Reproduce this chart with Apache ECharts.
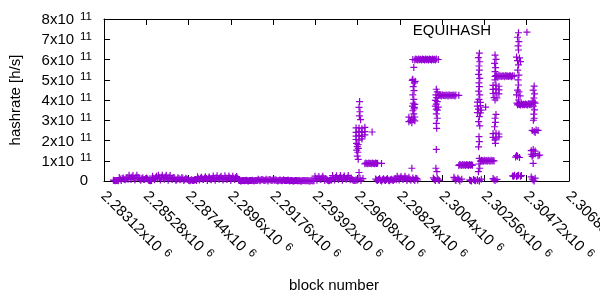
<!DOCTYPE html>
<html><head><meta charset="utf-8">
<script src="https://cdn.jsdelivr.net/npm/echarts@6/dist/echarts.min.js"></script>
<style>html,body{margin:0;padding:0;background:#fff}#c{width:600px;height:300px}</style>
</head><body><div id="c"></div>
<script>
// ---- data (hashrate in units of 1e9 h/s) ----
const xTickMin = 2283120, xTickMax = 2306880, xTickStep = 2160;
const yTickMax = 8e11, yTickStep = 1e11;

// dense low band, one sample every 100 blocks (two interleaved rows)
const lowBandStart = 2283600;
const lowBandValues = [4,1,3, 17,3,15,6,17, 29,8,27,5,28, 17,4,16,7,15, 4,1, 24,6,23,
  29,5,28,9,29,4,27,8, 17,3,16,6,17,2,14, 7,1,6,2,7, 21,5,19,8,21,3,20,6,
  25,4,26,9,24,5,26,7,25,3,24,8,22, 4,0,3,1,4,0,2,4,1,3, 9,1,8,2,9,0,7,3,9,
  6,0,5,1,6,2,4,0, 2,0,3,1,2,0,2,1,3,0,2,1, 24,4,22,7,24,3, 8,1,6,
  27,5,26,8,27,4,25,9,27,6, 8,2,6];
const lowBandMidStart = 2283650;
const lowBandMidValues = [2,3,1, 10,12,8,11,9, 15,20,13,18,16, 9,11,8,12,10, 2,3, 12,15,11,
  16,19,14,21,15,18,13,17, 10,8,12,9,11,7,10, 3,4,2,5,3, 11,14,10,13,12,15,9,12,
  13,16,12,17,14,11,15,13,16,12,14,17,13, 2,1,3,2,1,2,3,1,2,2, 4,6,5,3,5,6,4,5,3,
  3,2,4,3,2,3,4,2, 1,1,2,1,0,1,2,1,1,0,1,1, 12,14,11,15,13,12, 4,3,5,
  14,17,13,16,15,18,12,16,14,15, 4,3,4];
const lowBand2Start = 2297000;
const lowBand2Values = [10,2,12,0,11,3,12,1,9,2,12, 24,5,22,8,24,3];
const lowBand2MidStart = 2297050;
const lowBand2MidValues = [5,7,4,6,5,8,4,6,5,7,6, 13,15,12,14,13,11];

// plateaus, one sample every 50 blocks
const plateau1Start = 2296450, plateau1 = [85,89,87,85,89,86,88,85,89,87,85,89,86,88];
const plateau2Start = 2299000, plateau2 = [598,602,600,597,603,599,601,598,602,600,597,603,599,601,598,602,600,597,603,599,601,598,602];
const plateau3Start = 2300200, plateau3 = [421,425,423,420,426,422,424,421,425,423,420,426,422,424,421,425,423,420,425];
const plateau4Start = 2301250, plateau4 = [77,81,79,76,82,78,80,77,81,79,76,82,78,80,78];
const plateau5Start = 2302350, plateau5 = [98,102,100,97,103,99,101,98,102,100,97,103,99,101,99];
const plateau6Start = 2303100, plateau6 = [516,520,518,515,521,517,519,516,520,518,515,521,517,519,516,520,518,515,520];
const plateau7Start = 2304250, plateau7 = [376,380,378,375,381,377,379,376,380,378,375,381,377,379,377];

// individual blocks [block, hashrate]
const spike1 = [[2296180,392],[2296150,364],[2296200,342],[2296170,322],[2296230,303],
 [2296000,262],[2296150,262],[2296300,258],[2296450,265],[2296000,240],[2296150,245],[2296300,240],[2296450,244],
 [2296000,222],[2296150,225],[2296300,220],[2296450,228],[2296000,205],[2296150,202],[2296300,208],[2296820,242],
 [2296020,186],[2296100,180],[2296060,170],[2296120,161],[2296030,152],[2296090,142],[2296060,123],[2296110,107],
 [2296150,42],[2296100,8],[2296250,3],[2296350,12],[2296200,14],[2297300,87]];
const spike2 = [[2298950,561],[2298900,502],[2298980,485],[2298920,466],[2298960,446],[2298900,425],[2298950,403],
 [2298920,384],[2298980,364],[2298900,347],[2298950,331],[2298700,315],[2298850,312],[2299000,316],[2298700,293],
 [2298850,288],[2299000,297],[2298780,300],[2298930,305],[2298870,497],[2299020,492],[2298880,370],[2299000,378],
 [2298960,356],[2298850,63],[2298700,18],[2298800,4],[2298900,15],[2299000,2],[2299100,12],[2299150,5],
 [2298750,9],[2298950,8],[2299050,14],[2298900,600],[2300200,600]];
const spike3 = [[2300100,453],[2300150,440],[2300080,425],[2300120,412],[2300050,398],[2300150,392],[2300100,380],
 [2300050,370],[2300200,365],[2300100,355],[2300150,350],[2300100,331],[2300150,310],[2300100,285],[2300120,260],
 [2300100,156],[2300080,63],[2300130,46],[2299950,15],[2300050,3],[2300150,12],[2300250,2],[2300000,8],[2300200,6],
 [2301250,423],[2301000,18],[2301100,3],[2301200,14],[2301300,0],[2301400,9],[2301050,10],[2301250,7]];
const spike4 = [[2301800,5],[2301900,0],[2302000,8],[2302100,1],[2302200,4],[2302300,0],[2301850,3],[2302050,4],
 [2302300,631],[2302250,609],[2302320,589],[2302280,568],[2302300,548],[2302260,527],[2302320,507],[2302280,485],
 [2302300,466],[2302260,444],[2302320,425],[2302280,403],[2302200,390],[2302350,388],[2302200,370],[2302350,372],
 [2302250,355],[2302400,350],[2302200,338],[2302350,336],[2302620,365],[2302300,318],[2302260,293],[2302320,272],
 [2302280,219],[2302300,194],[2302260,169],[2302300,112],[2302280,84],[2302320,63],[2302250,46],
 [2302200,6],[2302300,1],[2302400,9]];
const spike5 = [[2303100,622],[2303150,601],[2303080,581],[2303130,560],[2303100,540],[2303150,519],[2303100,499],
 [2303000,472],[2303150,474],[2303300,468],[2303000,452],[2303150,455],[2303300,450],[2303000,432],[2303150,435],
 [2303300,430],[2303050,412],[2303200,410],[2303100,400],[2303150,329],[2303100,310],[2303120,290],[2303080,268],
 [2303000,234],[2303150,236],[2303300,232],[2303000,215],[2303150,212],[2303300,218],[2303100,203],[2303120,186],
 [2303000,12],[2303100,2],[2303200,8],[2303050,6],[2304080,518]];
const spike6 = [[2304000,25],[2304100,29],[2304200,22],[2304300,28],[2304400,23],[2304450,27],[2304050,23],[2304250,26],
 [2304150,118],[2304250,122],[2304350,116],[2304200,126],
 [2304300,732],[2304250,710],[2304320,688],[2304280,667],[2304300,647],[2304200,612],[2304350,608],[2304250,594],
 [2304400,590],[2304300,573],[2304260,548],[2304320,523],[2304280,499],[2304300,474],[2304250,449],[2304320,440],
 [2304200,425],[2304380,420],[2304300,400],[2304220,385],[2304730,735]];
const spike7 = [[2305100,469],[2305050,449],[2305120,430],[2305080,410],[2305100,390],[2305050,370],[2305120,351],
 [2305080,330],[2305100,310],[2305060,300],[2305000,395],[2305150,385],
 [2305000,250],[2305100,245],[2305200,252],[2305150,240],[2305300,250],
 [2304950,150],[2305050,155],[2305150,148],[2304950,132],[2305050,128],[2305150,135],[2305300,125],[2305000,122],
 [2305380,128],[2305050,87],[2304950,20],[2305050,5],[2305150,14],[2305100,0],[2305000,10]];

// ---- build ----
const UNIT = 1e9;
function row(start, step, vals) { return vals.map((v, i) => [start + i * step, v * UNIT]); }
function pts(list) { return list.map(p => [p[0], p[1] * UNIT]); }
const data = [].concat(
  row(lowBandStart, 100, lowBandValues), row(lowBandMidStart, 100, lowBandMidValues),
  row(lowBand2Start, 100, lowBand2Values), row(lowBand2MidStart, 100, lowBand2MidValues),
  row(plateau1Start, 50, plateau1), row(plateau2Start, 50, plateau2), row(plateau3Start, 50, plateau3),
  row(plateau4Start, 50, plateau4), row(plateau5Start, 50, plateau5), row(plateau6Start, 50, plateau6),
  row(plateau7Start, 50, plateau7),
  pts(spike1), pts(spike2), pts(spike3), pts(spike4), pts(spike5), pts(spike6), pts(spike7));

const FONT = '"Liberation Sans", Arial, sans-serif';
const PURPLE = '#9400d3';
const rich = {
  b: { fontSize: 15, fontFamily: FONT, color: '#000', verticalAlign: 'bottom' },
  s: { fontSize: 11.5, fontFamily: FONT, color: '#000', verticalAlign: 'bottom', padding: [0, 0, 5, 6] },
  z: { fontSize: 15, fontFamily: FONT, color: '#000', padding: [0, 4, 0, 0] }
};
const axisLine = { show: true, onZero: false, lineStyle: { color: '#000', width: 1 } };
const tick = { show: true, inside: true, length: 6, lineStyle: { color: '#000', width: 1 } };

const chart = echarts.init(document.getElementById('c'), null, { renderer: 'canvas' });
chart.setOption({
  animation: false,
  backgroundColor: '#fff',
  grid: { left: 104, right: 31, top: 19, bottom: 119, containLabel: false, outerBoundsMode: 'none' },
  xAxis: [
    { type: 'value', position: 'bottom', min: xTickMin, max: xTickMax, interval: xTickStep,
      axisLine, axisTick: tick, splitLine: { show: false },
      axisLabel: { rotate: -45, margin: 12, rich,
        formatter: v => '{b|' + (+(v / 1e6).toFixed(5)) + 'x10}{s|6}' } },
    { type: 'value', position: 'top', min: xTickMin, max: xTickMax, interval: xTickStep,
      axisLine, axisTick: tick, splitLine: { show: false }, axisLabel: { show: false } }
  ],
  yAxis: [
    { type: 'value', position: 'left', min: 0, max: yTickMax, interval: yTickStep,
      axisLine, axisTick: tick, splitLine: { show: false },
      axisLabel: { margin: 12, rich,
        formatter: v => v === 0 ? '{z|0}' : '{b|' + Math.round(v / 1e11) + 'x10}{s|11}' } },
    { type: 'value', position: 'right', min: 0, max: yTickMax, interval: yTickStep,
      axisLine, axisTick: tick, splitLine: { show: false }, axisLabel: { show: false } }
  ],
  graphic: [
    { type: 'text', x: 16, y: 100, rotation: Math.PI / 2,
      style: { text: 'hashrate [h/s]', fill: '#000', font: '15px ' + FONT, align: 'center', verticalAlign: 'middle' } },
    { type: 'text', x: 334, y: 286,
      style: { text: 'block number', fill: '#000', font: '15px ' + FONT, align: 'center', verticalAlign: 'middle' } },
    { type: 'text', x: 452, y: 31,
      style: { text: 'EQUIHASH', fill: '#000', font: '15px ' + FONT, align: 'center', verticalAlign: 'middle' } }
  ],
  series: [{
    type: 'scatter', xAxisIndex: 0, yAxisIndex: 0, data, silent: true,
    symbol: 'path://M0,5L10,5M5,0L5,10', symbolSize: 7,
    itemStyle: { color: PURPLE, borderColor: PURPLE, borderWidth: 1.2, opacity: 1 }
  }]
});
</script></body></html>
